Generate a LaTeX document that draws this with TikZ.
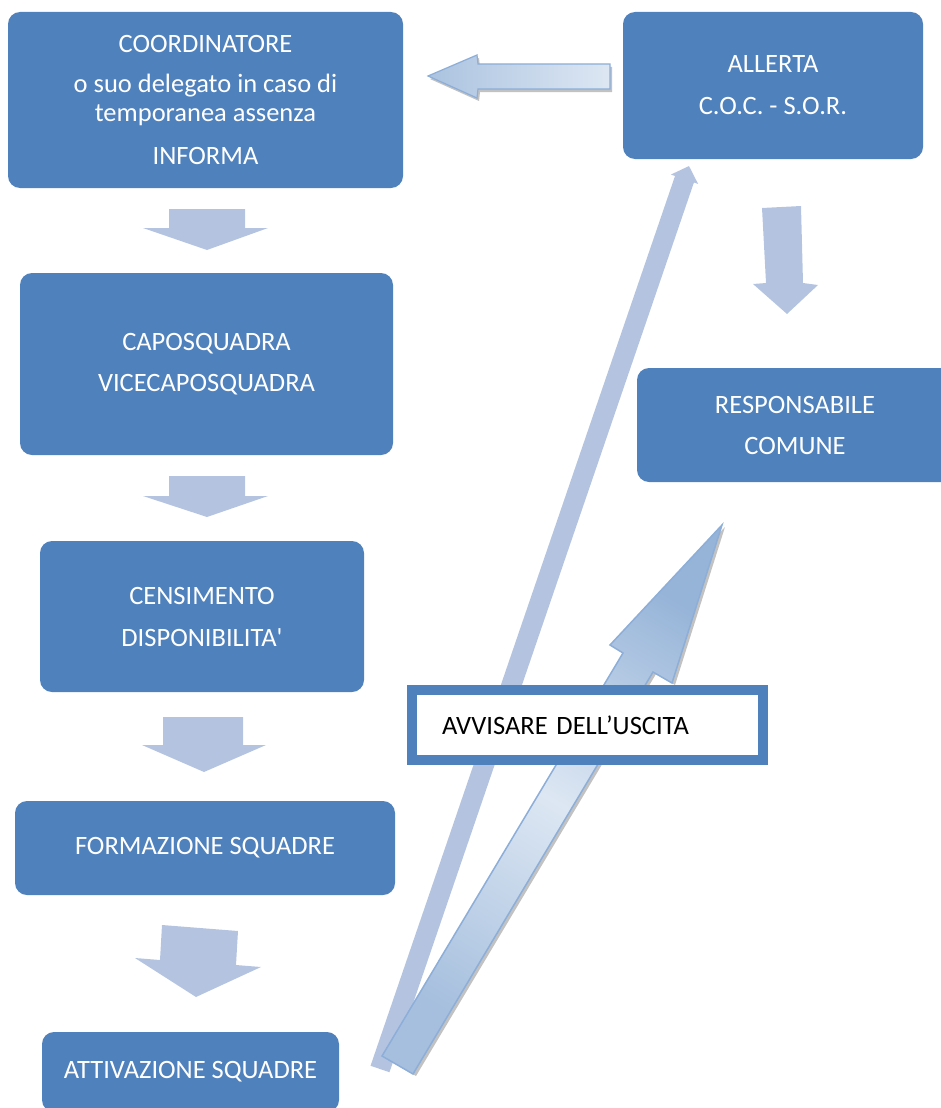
\documentclass[tikz,border=0pt]{standalone}
\usepackage{fontspec}
\setmainfont{Carlito}
\usetikzlibrary{arrows.meta}

\definecolor{bluscuro}{RGB}{79,129,189}
\definecolor{azzurro}{RGB}{180,196,224}
\definecolor{gradchiaro}{RGB}{221,231,243}
\definecolor{gradscuro}{RGB}{150,180,216}
\definecolor{bordofreccia}{RGB}{140,174,216}

\begin{document}
\begin{tikzpicture}[x=1pt,y=-1pt,
    blocco/.style={fill=bluscuro, rounded corners=12pt, text=white, align=center,
      inner sep=0pt, font=\fontsize{26.5}{29}\selectfont},
    giu/.style={fill=azzurro},
    ombra/.style={fill=black!40, opacity=0.6},
    avviso/.style={draw=bluscuro, line width=9pt, fill=white, text=black,
      minimum width=352pt, minimum height=71pt, text width=291pt, inner xsep=30.5pt,
      align=left, font=\fontsize{26.5}{29}\selectfont}]
    \useasboundingbox (0,0) rectangle (941,1108);
    \clip (0,0) rectangle (941,1108);

    % caselle
    \node[blocco, minimum width=395pt, minimum height=176pt] (coord) at (205.5,100)
        {COORDINATORE\\[11pt] o suo delegato in caso di\\ temporanea assenza\\[14pt] INFORMA};
    \node[blocco, minimum width=300pt, minimum height=147pt] (allerta) at (773,85.5)
        {ALLERTA\\[13pt] C.O.C. - S.O.R.};
    \node[blocco, minimum width=373pt, minimum height=182pt] (capo) at (206.5,364)
        {CAPOSQUADRA\\[12pt] VICECAPOSQUADRA};
    \node[blocco, minimum width=324pt, minimum height=151pt] (censim) at (202,616.5)
        {CENSIMENTO\\[13pt] DISPONIBILITA\textquotesingle};
    \node[blocco, minimum width=380pt, minimum height=94pt] (formaz) at (205,848)
        {FORMAZIONE SQUADRE};
    \node[blocco, minimum width=297pt, minimum height=80pt] (attiv) at (190.5,1072)
        {ATTIVAZIONE SQUADRE};
    \node[blocco, minimum width=316pt, minimum height=114pt] (resp) at (795,425)
        {RESPONSABILE\\[12pt] COMUNE};

    % frecce in giu
    \fill[giu] (169,209) -- (245,209) -- (245,228) -- (268,228) -- (207,250) -- (143,228) -- (169,228) -- cycle;
    \fill[giu] (169,476) -- (245,476) -- (245,496) -- (268,496) -- (207,517) -- (143,496) -- (169,496) -- cycle;
    \fill[giu] (163,717) -- (243,717) -- (243,745) -- (266,745) -- (204,772) -- (142,745) -- (163,745) -- cycle;
    \fill[giu] (162,925) -- (238,931) -- (236,965) -- (261,967) -- (196,997) -- (135,958) -- (160,960) -- cycle;
    \fill[giu] (762,208) -- (801,206) -- (803,283) -- (818,285) -- (787,314) -- (753,284) -- (766,283) -- cycle;

    % freccia verso il coordinatore
    \fill[ombra] (430,79) -- (479,58) -- (480,67) -- (612,67) -- (612,92) -- (480,92) -- (479,101) -- cycle;
    \draw[bordofreccia, line width=1.2pt, left color=gradscuro!80, right color=gradchiaro]
        (428,76) -- (477,55) -- (478,64) -- (610,64) -- (610,89) -- (478,89) -- (477,98) -- cycle;

    % freccia sottile verso allerta
    \coordinate (sott0) at (380,1069);
    \coordinate (sott1) at (689,166);
    \draw[azzurro, line width=20pt, -{Triangle[width=28pt,length=14pt]}] (sott0) -- (sott1);

    % freccia grande verso responsabile
    \fill[ombra] (385,1058) -- (626,655) -- (613,647) -- (725,527) -- (675,685) -- (656,674) -- (416,1076) -- cycle;
    \draw[bordofreccia, line width=1.5pt, top color=gradscuro, bottom color=gradscuro!85!white,
          middle color=gradchiaro, shading angle=-31]
        (382,1056) -- (623,653) -- (610,645) -- (722,525) -- (672,683) -- (653,672) -- (413,1074) -- cycle;

    % riquadro
    \node[avviso] (avv) at (587.5,725) {AVVISARE DELL’USCITA};
    \draw[bluscuro, line width=2.5pt] ([shift={(8.5,8.5)}]avv.north west) rectangle ([shift={(-8.5,-8.5)}]avv.south east);
\end{tikzpicture}
\end{document}
